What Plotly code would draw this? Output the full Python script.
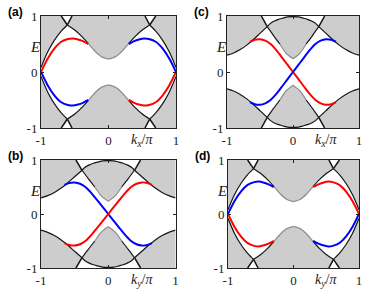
import plotly.graph_objects as go

# ---------------- data ----------------
# Panels (a) and (d): bulk band edges in the upper-left quarter (k<0, E>0);
# the spectrum is symmetric under k -> -k and E -> -E.
AD_OUTER_K = [-1.0, -0.9, -0.8, -0.7, -0.61]
AD_OUTER_E = [0.08, 0.36, 0.57, 0.73, 0.84]
AD_OUTER_TOP_K = -0.70          # outer band edge reaches E = 1 here
AD_CENTRAL_K = [-0.61, -0.5, -0.4, -0.3, -0.2, -0.1, 0.0]
AD_CENTRAL_E = [0.84, 0.75, 0.64, 0.51, 0.37, 0.27, 0.23]
AD_CENTRAL_TOP_K = -0.54        # central band edge reaches E = 1 here

# Panels (b) and (c): bulk band edges in the upper-left quarter
BC_OUTER_K = [-1.0, -0.9, -0.8, -0.7, -0.6, -0.5, -0.39]
BC_OUTER_E = [0.30, 0.34, 0.40, 0.48, 0.58, 0.69, 0.81]
BC_OUTER_TOP_K = -0.48
BC_DOME_K = [-0.39, -0.35, -0.29, -0.22, -0.16, -0.08, 0.0]
BC_DOME_E = [0.81, 0.86, 0.905, 0.94, 0.96, 0.985, 0.99]
BC_CENTRAL_K = [-0.39, -0.3, -0.2, -0.1, 0.0]
BC_CENTRAL_E = [0.81, 0.66, 0.50, 0.33, 0.235]

# Edge states of panels (a)/(d): branch starting at k = -1, E = 0
EDGE_AD_K = [-1.0, -0.9, -0.8, -0.7, -0.6, -0.53, -0.45, -0.38, -0.30]
EDGE_AD_E = [0.0, 0.24, 0.42, 0.54, 0.59, 0.60, 0.58, 0.55, 0.50]

# Edge states of panels (b)/(c): branch crossing E = 0 at k = 0
EDGE_BC_K = [-0.65, -0.58, -0.5, -0.42, -0.34, -0.26, -0.18, -0.09, 0.0,
             0.09, 0.18, 0.26, 0.34, 0.42, 0.5, 0.58, 0.65]
EDGE_BC_E = [0.54, 0.575, 0.585, 0.56, 0.50, 0.40, 0.28, 0.14, 0.0,
             -0.14, -0.28, -0.40, -0.50, -0.56, -0.585, -0.575, -0.54]

TICK_VALS = [-1, 0, 1]
TICK_TEXT = ["-1", "0", "1"]
PANEL_LABELS = ["(a)", "(c)", "(b)", "(d)"]
K_LABELS = ["<i>k</i><sub><i>x</i></sub>/<i>π</i>", "<i>k</i><sub><i>x</i></sub>/<i>π</i>",
            "<i>k</i><sub><i>y</i></sub>/<i>π</i>", "<i>k</i><sub><i>y</i></sub>/<i>π</i>"]

# ---------------- styling ----------------
W, H = 374, 300
FILL = "#cdcdcd"
EDGE_DARK = "#151515"
EDGE_MID = "#8c8c8c"
RED = "#ff0000"
BLUE = "#0000ff"
SERIF = "Liberation Serif"

# panel pixel boxes: (left, right, top, bottom)
BOXES = [(41, 176, 16, 128), (227, 359, 16, 128), (41, 175.5, 160, 268), (228, 359, 160, 268)]
KINDS = ["ad", "bc", "bc", "ad"]
# colour of the "upper" branch for each panel
EDGE_COLORS = [(RED, BLUE), (RED, BLUE), (BLUE, RED), (BLUE, RED)]

fig = go.Figure()


def add_poly(ks, es, ax):
    xa, ya = ax
    fig.add_trace(go.Scatter(x=ks, y=es, xaxis=xa, yaxis=ya, mode="lines",
                             fill="toself", fillcolor=FILL, line=dict(width=0),
                             hoverinfo="skip", showlegend=False))


def add_line(ks, es, ax, color, width=1.2):
    xa, ya = ax
    fig.add_trace(go.Scatter(x=ks, y=es, xaxis=xa, yaxis=ya, mode="lines",
                             line=dict(color=color, width=width, shape="spline", smoothing=0.8),
                             hoverinfo="skip", showlegend=False))


def transforms():
    return [(1, 1), (-1, 1), (1, -1), (-1, -1)]


def bulk_ad(ax):
    for sk, se in transforms():
        ok = [-1.05] + [-1.05] + AD_OUTER_K + [AD_OUTER_TOP_K, AD_OUTER_TOP_K]
        oe = [1.05] + [AD_OUTER_E[0]] + AD_OUTER_E + [1.0, 1.05]
        add_poly([sk * k for k in ok], [se * e for e in oe], ax)
    for se in (1, -1):
        ck = [AD_CENTRAL_K[0], AD_CENTRAL_TOP_K, AD_CENTRAL_TOP_K, -AD_CENTRAL_TOP_K, -AD_CENTRAL_TOP_K]
        ce = [AD_CENTRAL_E[0], 1.0, 1.05, 1.05, 1.0]
        ck += [-k for k in AD_CENTRAL_K] + [k for k in reversed(AD_CENTRAL_K)]
        ce += list(AD_CENTRAL_E) + list(reversed(AD_CENTRAL_E))
        add_poly(ck, [se * e for e in ce], ax)
    for sk, se in transforms():
        add_line([sk * k for k in AD_OUTER_K], [se * e for e in AD_OUTER_E], ax, EDGE_DARK)
        xk, xe = AD_OUTER_K[-1], AD_OUTER_E[-1]
        add_line([sk * xk, sk * AD_OUTER_TOP_K], [se * xe, se * 1.0], ax, EDGE_DARK, 1.5)
        add_line([sk * xk, sk * AD_CENTRAL_TOP_K], [se * xe, se * 1.0], ax, EDGE_DARK, 1.5)
        add_line([sk * k for k in AD_CENTRAL_K[:4]], [se * e for e in AD_CENTRAL_E[:4]], ax, EDGE_DARK)
        add_line([sk * k for k in AD_CENTRAL_K[3:]], [se * e for e in AD_CENTRAL_E[3:]], ax, EDGE_MID)


def bulk_bc(ax):
    for sk, se in transforms():
        ok = [-1.05] + [-1.05] + BC_OUTER_K + [BC_OUTER_TOP_K, BC_OUTER_TOP_K]
        oe = [1.05] + [BC_OUTER_E[0]] + BC_OUTER_E + [1.0, 1.05]
        add_poly([sk * k for k in ok], [se * e for e in oe], ax)
    for se in (1, -1):
        ck = list(BC_DOME_K) + [-k for k in reversed(BC_DOME_K)]
        ce = list(BC_DOME_E) + list(reversed(BC_DOME_E))
        ck += [-k for k in BC_CENTRAL_K] + [k for k in reversed(BC_CENTRAL_K)]
        ce += list(BC_CENTRAL_E) + list(reversed(BC_CENTRAL_E))
        add_poly(ck, [se * e for e in ce], ax)
    for sk, se in transforms():
        add_line([sk * k for k in BC_OUTER_K], [se * e for e in BC_OUTER_E], ax, EDGE_DARK)
        xk, xe = BC_OUTER_K[-1], BC_OUTER_E[-1]
        add_line([sk * xk, sk * BC_OUTER_TOP_K], [se * xe, se * 1.0], ax, EDGE_DARK, 1.5)
        add_line([sk * k for k in BC_DOME_K], [se * e for e in BC_DOME_E], ax, EDGE_DARK)
        add_line([sk * k for k in BC_CENTRAL_K[:3]], [se * e for e in BC_CENTRAL_E[:3]], ax, EDGE_DARK)
        add_line([sk * k for k in BC_CENTRAL_K[2:]], [se * e for e in BC_CENTRAL_E[2:]], ax, EDGE_MID)


def edges_ad(ax, c_up, c_dn):
    add_line(EDGE_AD_K, EDGE_AD_E, ax, c_up, 2.0)
    add_line(EDGE_AD_K, [-e for e in EDGE_AD_E], ax, c_dn, 2.0)
    add_line([-k for k in EDGE_AD_K], EDGE_AD_E, ax, c_dn, 2.0)
    add_line([-k for k in EDGE_AD_K], [-e for e in EDGE_AD_E], ax, c_up, 2.0)


def edges_bc(ax, c_up, c_dn):
    add_line(EDGE_BC_K, EDGE_BC_E, ax, c_up, 2.0)
    add_line(EDGE_BC_K, [-e for e in EDGE_BC_E], ax, c_dn, 2.0)


layout = dict(width=W, height=H, margin=dict(l=0, r=0, t=0, b=0, pad=0),
              paper_bgcolor="white", plot_bgcolor="white", showlegend=False)
annotations = []


def ann(text, px, py, font):
    return dict(text=text, xref="paper", yref="paper", x=px / W, y=1 - py / H,
                xanchor="center", yanchor="middle", showarrow=False, font=font)


for i, (box, kind, cols) in enumerate(zip(BOXES, KINDS, EDGE_COLORS)):
    l, r, t, b = box
    sfx = "" if i == 0 else str(i + 1)
    xa, ya = "x" + sfx, "y" + sfx
    axis_common = dict(range=[-1, 1], showline=True, mirror="ticks", linecolor="#222",
                       linewidth=1, ticks="inside", ticklen=3, tickcolor="#222",
                       tickvals=TICK_VALS, ticktext=TICK_TEXT, showgrid=False,
                       zeroline=False, fixedrange=True, automargin=False,
                       tickfont=dict(family=SERIF, size=13, color="#222"))
    layout["xaxis" + sfx] = dict(axis_common, domain=[l / W, r / W], anchor=ya)
    layout["yaxis" + sfx] = dict(axis_common, domain=[1 - b / H, 1 - t / H], anchor=xa)
    ax = (xa, ya)
    if kind == "ad":
        bulk_ad(ax)
        edges_ad(ax, *cols)
    else:
        bulk_bc(ax)
        edges_bc(ax, *cols)
    annotations.append(ann("<b>" + PANEL_LABELS[i] + "</b>", l - 26, t - 4,
                           dict(family="Liberation Sans", size=12, color="black")))
    annotations.append(ann("<i>E</i>", l - 6, t + 31,
                           dict(family=SERIF, size=15, color="#222")))
    annotations.append(ann(K_LABELS[i], l + 0.75 * (r - l), b + 12,
                           dict(family=SERIF, size=14, color="#222")))

layout["annotations"] = annotations
fig.update_layout(**layout)
fig.write_html("out.html", config={"displayModeBar": False},
               post_script="document.body.style.margin='0';document.body.style.padding='0';")
